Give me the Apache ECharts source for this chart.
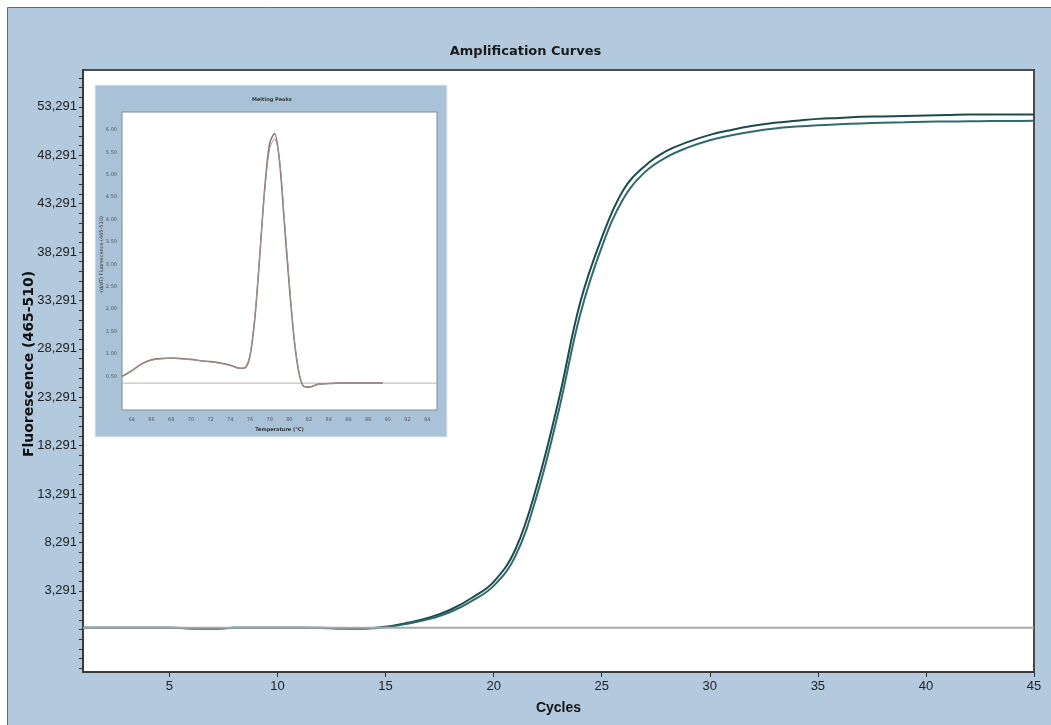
<!DOCTYPE html>
<html lang="en">
<head>
    <meta charset="UTF-8">
    <title>Amplification Curves</title>
    <script src="https://cdn.jsdelivr.net/npm/echarts@6/dist/echarts.min.js"></script>
    <style>
        html, body { margin: 0; padding: 0; background: #fff; }
    </style>
</head>
<body>
<div id="chartmain" style="width: 1051px; height: 725px;"></div>
<script type="text/javascript">
    // amplification data, one value per cycle
    var cycles = [1, 2, 3, 4, 5, 6, 7, 8, 9, 10, 11, 12, 13, 14, 15, 16, 17, 18, 19, 20,
        21, 22, 23, 24, 25, 26, 27, 28, 29, 30, 31, 32, 33, 34, 35, 36, 37, 38, 39, 40,
        41, 42, 43, 44, 45];
    var curveA = [-520, -530, -530, -530, -530, -600, -610, -540, -530, -530,
        -530, -550, -600, -600, -420, -20, 500, 1330, 2570, 4220,
        7530, 14140, 22920, 33040, 39760, 44710, 47190, 48740, 49670, 50400,
        50910, 51330, 51640, 51850, 52050, 52150, 52260, 52300, 52360, 52410,
        52460, 52510, 52510, 52510, 52510];
    var curveB = [-530, -530, -530, -530, -530, -590, -600, -540, -530, -530,
        -530, -540, -590, -600, -470, -120, 360, 1100, 2250, 3800,
        6850, 13150, 21800, 31800, 38800, 43800, 46550, 48100, 49100, 49850,
        50350, 50750, 51050, 51250, 51400, 51500, 51580, 51650, 51700, 51750,
        51780, 51800, 51820, 51830, 51850];
    var baselineLevel = -530;
    var yTickValues = [3291, 8291, 13291, 18291, 23291, 28291, 33291, 38291, 43291, 48291, 53291];
    var xTickValues = [5, 10, 15, 20, 25, 30, 35, 40, 45];

    // melting peaks inset
    var meltTemps = [63, 64, 65, 66, 67, 68, 69, 70, 71, 72, 73, 74, 75, 75.5, 76, 76.5, 77, 77.5,
        78, 78.5, 79, 79.5, 80, 80.5, 81, 81.5, 82, 83, 84, 85, 86, 87, 88, 89, 89.5];
    var meltPeak1 = [0.50, 0.63, 0.78, 0.87, 0.90, 0.91, 0.90, 0.88, 0.85, 0.83, 0.80, 0.75, 0.68, 0.69,
        0.95, 1.80, 3.20, 4.70, 5.70, 5.92, 5.30, 3.90, 2.50, 1.30, 0.55, 0.27, 0.26, 0.33, 0.34,
        0.35, 0.35, 0.35, 0.35, 0.35, 0.35];
    var meltPeak2 = [0.49, 0.62, 0.77, 0.86, 0.89, 0.90, 0.89, 0.87, 0.85, 0.82, 0.79, 0.74, 0.68, 0.70,
        0.98, 1.85, 3.25, 4.65, 5.58, 5.80, 5.35, 4.00, 2.60, 1.35, 0.58, 0.28, 0.27, 0.33, 0.34,
        0.35, 0.35, 0.35, 0.35, 0.35, 0.35];
    var meltBaseline = 0.35;
    var meltXLabels = [64, 66, 68, 70, 72, 74, 76, 78, 80, 82, 84, 86, 88, 90, 92, 94];
    var meltYLabels = [0.5, 1.0, 1.5, 2.0, 2.5, 3.0, 3.5, 4.0, 4.5, 5.0, 5.5, 6.0];

    function pairs(xs, ys) {
        var out = [];
        for (var i = 0; i < xs.length; i++) {
            out.push([xs[i], ys[i]]);
        }
        return out;
    }

    // tick marks every 1000 along the y axis (the labelled ones fall on this grid)
    var yAllTicks = [];
    for (var v = -4709; v <= 56291; v += 1000) {
        yAllTicks.push(v);
    }

    var labelFont = "'Liberation Sans', Arial, sans-serif";

    var myChart = echarts.init(document.getElementById('chartmain'));

    var option = {
        backgroundColor: '#ffffff',
        animation: false,
        title: {
            text: 'Amplification Curves',
            left: 'center',
            top: 40,
            textStyle: {
                fontFamily: 'DejaVu Sans',
                fontSize: 13,
                fontWeight: 'bold',
                color: '#1a1a1a'
            }
        },
        graphic: [
            {
                type: 'rect', z: -10, silent: true,
                shape: {x: 7.5, y: 7.5, width: 1100, height: 800},
                style: {fill: '#b3c9dd', stroke: '#2c78c0', lineWidth: 1}
            },
            {
                type: 'rect', z: -9, silent: true,
                shape: {x: 83, y: 70, width: 951, height: 602},
                style: {fill: '#ffffff', stroke: '#4a4a4a', lineWidth: 2}
            },
            {
                type: 'rect', z: -8, silent: true,
                shape: {x: 95, y: 85, width: 352, height: 352},
                style: {fill: '#a9c2d8', stroke: '#e6edf4', lineWidth: 1}
            },
            {
                type: 'rect', z: -7, silent: true,
                shape: {x: 122, y: 112, width: 315, height: 298},
                style: {fill: '#ffffff', stroke: '#7d8c9a', lineWidth: 1}
            },
            {
                type: 'text', z: 5, silent: true,
                left: 252, top: 97,
                style: {text: 'Melting Peaks', fontSize: 5, fontWeight: 'bold', fontFamily: 'DejaVu Sans', fill: '#333'}
            },
            {
                type: 'text', z: 5, silent: true,
                x: 29, y: 364, rotation: Math.PI / 2,
                style: {
                    text: 'Fluorescence (465-510)',
                    fontSize: 14, fontWeight: 'bold', fontFamily: 'DejaVu Sans', fill: '#111',
                    align: 'center', verticalAlign: 'middle'
                }
            },
            {
                type: 'text', z: 5, silent: true,
                x: 102, y: 255, rotation: Math.PI / 2,
                style: {
                    text: '-(d/dT) Fluorescence (465-510)',
                    fontSize: 5, fontFamily: 'DejaVu Sans', fill: '#333',
                    align: 'center', verticalAlign: 'middle'
                }
            }
        ],
        grid: [
            {left: 83, right: 17, top: 70, bottom: 53},
            {left: 122, top: 112, width: 315, height: 298}
        ],
        xAxis: [
            {
                gridIndex: 0,
                type: 'value',
                min: 1,
                max: 45,
                name: 'Cycles',
                nameLocation: 'middle',
                nameGap: 29,
                nameTextStyle: {fontFamily: labelFont, fontWeight: 'bold', fontSize: 14, color: '#111'},
                axisLine: {show: true, onZero: false, lineStyle: {color: '#3a3a3a', width: 2}},
                axisTick: {show: true, customValues: xTickValues, length: 5, lineStyle: {color: '#333'}},
                axisLabel: {customValues: xTickValues, fontFamily: labelFont, fontSize: 13, color: '#222', margin: 8},
                splitLine: {show: false}
            },
            {
                gridIndex: 1,
                type: 'value',
                min: 63,
                max: 95,
                name: 'Temperature (°C)',
                nameLocation: 'middle',
                nameGap: 17,
                nameTextStyle: {fontFamily: 'DejaVu Sans', fontWeight: 'bold', fontSize: 5, color: '#333'},
                axisLine: {show: false, onZero: false},
                axisTick: {show: false},
                axisLabel: {customValues: meltXLabels, fontFamily: 'DejaVu Sans', fontSize: 5, color: '#555', margin: 7},
                splitLine: {show: false}
            }
        ],
        yAxis: [
            {
                gridIndex: 0,
                type: 'value',
                min: -5100,
                max: 57100,
                axisLine: {show: true, onZero: false, lineStyle: {color: '#3a3a3a', width: 2}},
                axisTick: {show: true, customValues: yAllTicks, length: 4, lineStyle: {color: '#333'}},
                axisLabel: {
                    customValues: yTickValues,
                    fontFamily: labelFont,
                    fontSize: 13,
                    color: '#222',
                    margin: 6,
                    formatter: function (val) {
                        return val.toLocaleString('en-US');
                    }
                },
                splitLine: {show: false}
            },
            {
                gridIndex: 1,
                type: 'value',
                min: -0.25,
                max: 6.4,
                axisLine: {show: false, onZero: false},
                axisTick: {show: false},
                axisLabel: {
                    customValues: meltYLabels,
                    fontFamily: 'DejaVu Sans',
                    fontSize: 5,
                    color: '#555',
                    margin: 5,
                    formatter: function (val) {
                        return val.toFixed(2);
                    }
                },
                splitLine: {show: false}
            }
        ],
        series: [
            {
                name: 'Sample 1',
                type: 'line',
                xAxisIndex: 0,
                yAxisIndex: 0,
                data: pairs(cycles, curveA),
                smooth: 0.4,
                symbol: 'none',
                lineStyle: {color: '#1d4a4d', width: 2},
                z: 3
            },
            {
                name: 'Sample 2',
                type: 'line',
                xAxisIndex: 0,
                yAxisIndex: 0,
                data: pairs(cycles, curveB),
                smooth: 0.4,
                symbol: 'none',
                lineStyle: {color: '#2f6a6c', width: 2},
                z: 3
            },
            {
                name: 'Baseline',
                type: 'line',
                xAxisIndex: 0,
                yAxisIndex: 0,
                data: [[1, baselineLevel], [45, baselineLevel]],
                symbol: 'none',
                lineStyle: {color: '#a9a9a9', width: 2},
                z: 4
            },
            {
                name: 'Melt 1',
                type: 'line',
                xAxisIndex: 1,
                yAxisIndex: 1,
                data: pairs(meltTemps, meltPeak1),
                smooth: 0.3,
                symbol: 'none',
                lineStyle: {color: '#7f6f6d', width: 1.5},
                z: 3
            },
            {
                name: 'Melt 2',
                type: 'line',
                xAxisIndex: 1,
                yAxisIndex: 1,
                data: pairs(meltTemps, meltPeak2),
                smooth: 0.3,
                symbol: 'none',
                lineStyle: {color: '#a39391', width: 1},
                z: 3
            },
            {
                name: 'Melt baseline',
                type: 'line',
                xAxisIndex: 1,
                yAxisIndex: 1,
                data: [[63, meltBaseline], [95, meltBaseline]],
                symbol: 'none',
                lineStyle: {color: '#bfb0ae', width: 1},
                z: 2
            }
        ]
    };

    myChart.setOption(option);
</script>
</body>
</html>
